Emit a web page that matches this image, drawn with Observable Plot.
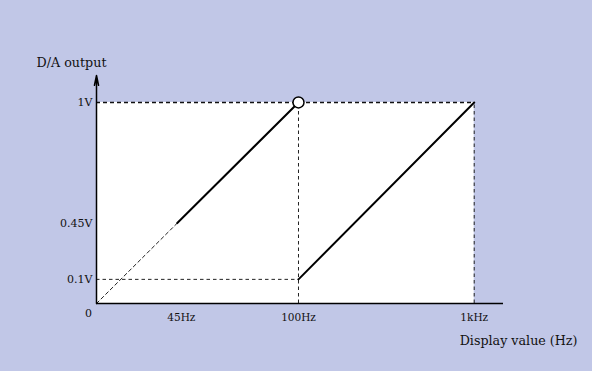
<!DOCTYPE html>
<html>
<head>
<meta charset="utf-8">
<script src="https://cdn.jsdelivr.net/npm/d3@7"></script>
<script src="https://cdn.jsdelivr.net/npm/@observablehq/plot@0.6"></script>
<style>
  html, body { margin: 0; padding: 0; background: #c1c7e7; }
  #chart { width: 592px; height: 371px; }
</style>
</head>
<body>
<div id="chart"></div>
<script>
// Schematic axis positions (1 unit = 100Hz on x, 1V on y)
const xTickLabels = ["45Hz", "100Hz", "1kHz"];
const xTickPos = [0.42, 1.0, 1.87];
const yTickLabels = ["0.1V", "0.45V", "1V"];
const yTickPos = [0.12, 0.40, 1.0];
const originLabel = ["0"];
const xAxisLabel = ["Display value (Hz)"];
const yAxisLabel = ["D/A output"];

// Output characteristic
const lowerDashedX = [0, 0.40];
const lowerDashedY = [0, 0.40];
const lowerSolidX = [0.40, 1.0];
const lowerSolidY = [0.40, 1.0];
const upperSolidX = [1.0, 1.87];
const upperSolidY = [0.12, 1.0];

const xMax = 2.015;
const yMax = 1.134;

const pts = (xs, ys) => xs.map((x, i) => ({x, y: ys[i]}));
const ticksX = xTickLabels.map((t, i) => ({t, x: xTickPos[i]}));
const ticksY = yTickLabels.map((t, i) => ({t, y: yTickPos[i]}));

const chart = Plot.plot({
  width: 592,
  height: 371,
  marginLeft: 96,
  marginRight: 89,
  marginTop: 75,
  marginBottom: 68,
  x: {domain: [0, xMax], axis: null},
  y: {domain: [0, yMax], axis: null},
  style: {background: "#c1c7e7", fontFamily: "DejaVu Serif", fontSize: "10.5px", color: "#111"},
  marks: [
    // white plot region
    Plot.rect([0], {x1: 0, x2: xTickPos[2], y1: 0, y2: yTickPos[2], fill: "white"}),
    // guides
    Plot.ruleY([yTickPos[2]], {x1: 0, x2: xTickPos[2], stroke: "#111", strokeWidth: 1.6, strokeDasharray: "4,3"}),
    Plot.ruleY([yTickPos[0]], {x1: 0, x2: xTickPos[1], stroke: "#222", strokeWidth: 1, strokeDasharray: "3.5,3"}),
    Plot.ruleX([xTickPos[1]], {y1: 0, y2: yTickPos[2], stroke: "#222", strokeWidth: 1, strokeDasharray: "3.5,3"}),
    Plot.ruleX([xTickPos[2]], {y1: 0, y2: yTickPos[2], stroke: "#222", strokeWidth: 1, strokeDasharray: "3.5,3"}),
    // characteristic
    Plot.line(pts(lowerDashedX, lowerDashedY), {x: "x", y: "y", stroke: "#222", strokeWidth: 1, strokeDasharray: "3.5,3"}),
    Plot.line(pts(lowerSolidX, lowerSolidY), {x: "x", y: "y", stroke: "#000", strokeWidth: 2}),
    Plot.line(pts(upperSolidX, upperSolidY), {x: "x", y: "y", stroke: "#000", strokeWidth: 2}),
    // axes
    Plot.ruleY([0], {x1: 0, x2: xMax, stroke: "#000", strokeWidth: 1.5}),
    Plot.arrow([0], {x1: 0, y1: 0, x2: 0, y2: yMax, stroke: "#000", strokeWidth: 1.5, headLength: 10, headAngle: 24}),
    // open circle at 100Hz / 1V
    Plot.dot([0], {x: xTickPos[1], y: yTickPos[2], r: 5.5, fill: "white", stroke: "#000", strokeWidth: 1.5}),
    // tick labels
    Plot.text(ticksX, {x: "x", y: 0, text: "t", dy: 14, fill: "#111"}),
    Plot.text(ticksY, {x: 0, y: "y", text: "t", textAnchor: "end", dx: -4, fill: "#111", fontSize: 11}),
    Plot.text(originLabel, {x: 0, y: 0, text: d => d, dx: -8, dy: 10, fill: "#111", fontSize: 11}),
    // axis titles
    Plot.text(xAxisLabel, {frameAnchor: "bottom-right", text: d => d, textAnchor: "end", dx: 74, dy: 41, fill: "#111", fontSize: 12.7}),
    Plot.text(yAxisLabel, {frameAnchor: "top-left", text: d => d, textAnchor: "middle", dx: -25, dy: -18, fill: "#111", fontSize: 12.7})
  ]
});
document.getElementById("chart").appendChild(chart);
</script>
</body>
</html>
